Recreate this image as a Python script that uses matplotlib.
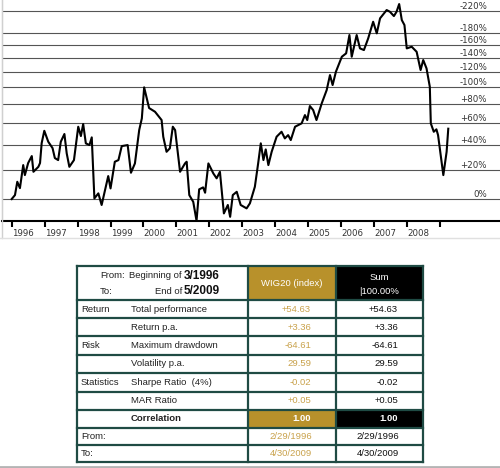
import matplotlib.pyplot as plt
import numpy as np
from matplotlib.lines import Line2D
from matplotlib.patches import Rectangle
from matplotlib.ticker import NullLocator
import matplotlib.transforms as mtransforms

# WIG20 cumulative performance (%), by year
dates = [
    1996.00, 1996.10, 1996.17, 1996.25, 1996.35, 1996.40, 1996.50, 1996.61, 1996.66, 1996.81, 1996.86, 1996.91, 1996.99,
    1997.11, 1997.24, 1997.31, 1997.41, 1997.49, 1997.60, 1997.67, 1997.75, 1997.89,
    1998.02, 1998.10, 1998.17, 1998.25, 1998.36, 1998.43, 1998.51, 1998.63, 1998.73, 1998.93,
    1999.00, 1999.13, 1999.24, 1999.34, 1999.52, 1999.62, 1999.74, 1999.87, 1999.95,
    2000.02, 2000.17, 2000.35, 2000.55, 2000.60, 2000.70, 2000.80, 2000.89, 2000.96,
    2001.11, 2001.26, 2001.31, 2001.39, 2001.51, 2001.61, 2001.69, 2001.81, 2001.87, 2001.97,
    2002.12, 2002.22, 2002.32, 2002.44, 2002.56, 2002.63, 2002.71, 2002.83, 2002.95,
    2003.13, 2003.23, 2003.38, 2003.48, 2003.56, 2003.64, 2003.71, 2003.79, 2003.89,
    2004.04, 2004.19, 2004.29, 2004.39, 2004.47, 2004.60, 2004.80, 2004.90, 2004.97,
    2005.05, 2005.15, 2005.25, 2005.41, 2005.56, 2005.66, 2005.74, 2005.84,
    2006.02, 2006.15, 2006.25, 2006.32, 2006.47, 2006.57, 2006.69, 2006.82, 2006.97,
    2007.08, 2007.18, 2007.38, 2007.48, 2007.60, 2007.68, 2007.76, 2007.84, 2007.92, 2007.99,
    2008.14, 2008.29, 2008.41, 2008.49, 2008.59, 2008.69, 2008.72, 2008.81, 2008.89, 2008.94,
    2009.10, 2009.20, 2009.25,
]
perf = [
    0, 2.5, 11.3, 7.0, 23.4, 16.0, 25.0, 30.5, 18.4, 22.1, 25.0, 41.4, 52.6,
    42.6, 37.1, 28.9, 27.3, 42.6, 49.6, 32.7, 22.1, 27.3,
    56.5, 47.7, 59.1, 41.2, 39.7, 46.5, 0.4, 3.6, -3.6, 15.3,
    6.8, 26.0, 27.3, 38.8, 39.7, 17.7, 24.7, 53.3, 64.8,
    99.7, 75.7, 71.7, 63.1, 47.1, 34.0, 36.9, 56.5, 53.3,
    18.4, 24.7, 26.0, 2.5, -1.7, -12.6, 6.2, 7.5, 4.0, 24.7,
    17.2, 13.7, 18.4, -8.5, -3.6, -10.4, 2.5, 4.6, -3.6,
    -5.6, -2.6, 7.9, 24.7, 41.2, 27.3, 36.0, 23.4, 34.0,
    47.1, 51.7, 45.6, 48.6, 44.1, 56.5, 59.8, 68.2, 63.1,
    77.9, 73.5, 63.1, 80.9, 96.4, 115.5, 102.6, 120.0,
    141.4, 146.5, 176.1, 141.4, 176.1, 154.2, 151.6, 170.5, 199.8,
    179.0, 206.2, 222.3, 218.9, 210.5, 218.9, 234.5, 202.9, 193.7, 154.2,
    156.8, 148.9, 122.3, 136.5, 124.6, 100.4, 59.8, 51.7, 54.0, 48.6,
    16.0, 34.0, 54.6,
]

years = list(range(1996, 2010))
year_labels = [str(y) for y in range(1996, 2009)] + [""]
grid_pcts = [0, 20, 40, 60, 80, 100, 120, 140, 160, 180, 220]
grid_labels = ["0%", "+20%", "+40%", "+60%", "+80%", "-100%", "-120%",
               "-140%", "-160%", "-180%", "-220%"]

# table contents
row_groups = ["Return", "", "Risk", "", "Statistics", "", ""]
row_items = ["Total performance", "Return p.a.", "Maximum drawdown", "Volatility p.a.",
             "Sharpe Ratio  (4%)", "MAR Ratio", "Correlation"]
wig_vals = ["+54.63", "+3.36", "-64.61", "29.59", "-0.02", "+0.05", "1.00"]
sum_vals = ["+54.63", "+3.36", "-64.61", "29.59", "-0.02", "+0.05", "1.00"]
date_rows = ["From:", "To:"]
wig_dates = ["2/29/1996", "4/30/2009"]
sum_dates = ["2/29/1996", "4/30/2009"]

W, H = 500, 468
GOLD = "#b8912b"
GOLD_TXT = "#c9a24c"
LINE = "#1f4b44"

fig = plt.figure(figsize=(W / 100, H / 100), dpi=100)


def px_axes(x0, y0, x1, y1):
    return fig.add_axes([x0 / W, 1 - y1 / H, (x1 - x0) / W, (y1 - y0) / H])


# ---- line chart ----
ax = px_axes(2, 0, 500, 221)
ax.plot(dates, 1 + np.array(perf) / 100, color="black", lw=1.5, zorder=3)
ax.set_yscale("log")
ax.set_ylim(0.873, 3.43)
ax.set_xlim(1995.706, 2010.82)
ax.yaxis.set_major_locator(NullLocator())
ax.yaxis.set_minor_locator(NullLocator())

trans = mtransforms.blended_transform_factory(ax.transAxes, ax.transData)
for g, lab in zip(grid_pcts, grid_labels):
    ax.axhline(1 + g / 100, color="#555555", lw=0.8, zorder=1)
    ax.text(0.974, 1 + g / 100, lab, transform=trans, ha="right", va="bottom",
            fontsize=6.2, color="#333333")

ax.set_xticks(years)
ax.set_xticklabels(year_labels)
for lbl in ax.get_xticklabels():
    lbl.set_horizontalalignment("left")
ax.tick_params(axis="x", direction="out", length=4, width=1.5, pad=2,
               labelsize=6.2, labelcolor="#333333")
ax.spines["bottom"].set_linewidth(1.5)
ax.spines["left"].set_color("#c8c8c8")
ax.spines["top"].set_visible(False)
ax.spines["right"].set_visible(False)

# ---- table (drawn in pixel coordinates) ----
tab = fig.add_axes([0, 0, 1, 1])
tab.set_xlim(0, W)
tab.set_ylim(H, 0)
tab.axis("off")
tab.patch.set_alpha(0)

# chart frame and bottom edge
tab.add_line(Line2D([1.5, 1.5], [0, 238], color="#d0d0d0", lw=1))
tab.add_line(Line2D([0, W], [238, 238], color="#e0e0e0", lw=1))
tab.add_line(Line2D([0, W], [466.5, 466.5], color="#b4b4b4", lw=2))

cols = [77, 248, 336, 423]
rows = [266, 300, 318, 336, 354.5, 373, 391.5, 409.5, 427.5, 445, 462]

tab.add_patch(Rectangle((248, 266), 88, 34, color=GOLD, lw=0))
tab.add_patch(Rectangle((336, 266), 87, 34, color="black", lw=0))
tab.add_patch(Rectangle((248, rows[7]), 88, rows[8] - rows[7], color=GOLD, lw=0))
tab.add_patch(Rectangle((336, rows[7]), 87, rows[8] - rows[7], color="black", lw=0))

for y in rows:
    tab.add_line(Line2D([cols[0], cols[-1]], [y, y], color=LINE, lw=1.6))
for x in cols:
    tab.add_line(Line2D([x, x], [rows[0], rows[-1]], color=LINE, lw=1.6))

tf = dict(family="Liberation Sans", fontsize=6.8, va="center")
# header
tab.text(100, 276, "From:", ha="left", color="#222222", **tf)
tab.text(182, 276, "Beginning of", ha="right", color="#222222", **tf)
tab.text(184, 276, "3/1996", ha="left", family="Liberation Sans", fontsize=8.5,
         fontweight="bold", va="center", color="#111111")
tab.text(100, 291, "To:", ha="left", color="#222222", **tf)
tab.text(182, 291, "End of", ha="right", color="#222222", **tf)
tab.text(184, 291, "5/2009", ha="left", family="Liberation Sans", fontsize=8.5,
         fontweight="bold", va="center", color="#111111")
tab.text(292, 283, "WIG20 (index)", ha="center", color="white", **tf)
tab.text(379.5, 277, "Sum", ha="center", color="white", **tf)
tab.text(379.5, 291, "|100.00%", ha="center", color="white", **tf)

for i in range(len(row_items)):
    yc = (rows[i + 1] + rows[i + 2]) / 2
    bold = row_items[i] == "Correlation"
    fw = "bold" if bold else "normal"
    tab.text(81, yc, row_groups[i], ha="left", color="#222222", **tf)
    tab.text(131, yc, row_items[i], ha="left", color="#222222", fontweight=fw, **tf)
    tab.text(311, yc, wig_vals[i], ha="right", color="white" if bold else GOLD_TXT,
             fontweight=fw, **tf)
    tab.text(398, yc, sum_vals[i], ha="right", color="white" if bold else "#111111",
             fontweight=fw, **tf)

for j in range(len(date_rows)):
    yc = (rows[8 + j] + rows[9 + j]) / 2
    tab.text(81, yc, date_rows[j], ha="left", color="#222222", **tf)
    tab.text(312, yc, wig_dates[j], ha="right", color=GOLD_TXT, **tf)
    tab.text(399, yc, sum_dates[j], ha="right", color="#111111", **tf)

fig.savefig("out.png", dpi=100)
